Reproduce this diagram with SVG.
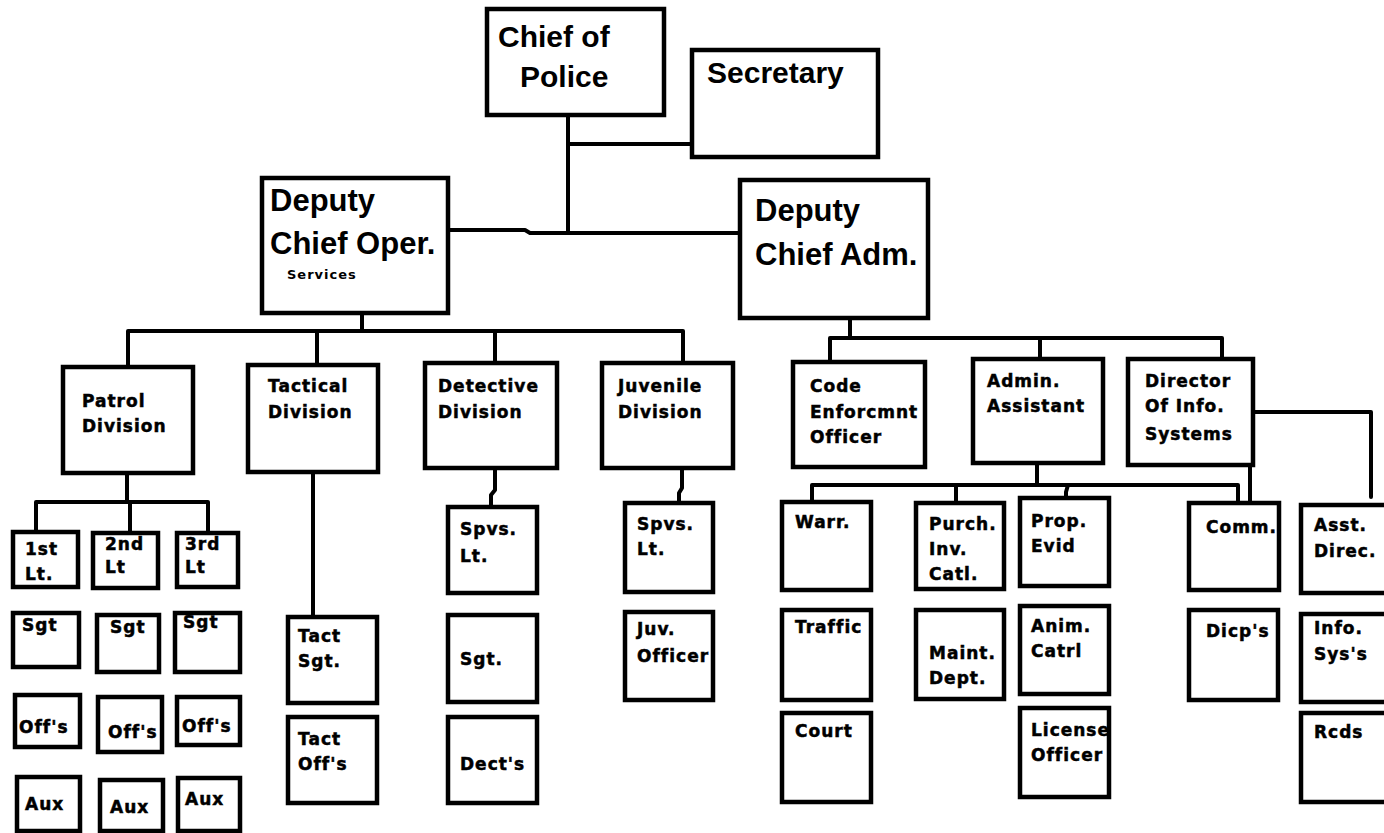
<svg xmlns="http://www.w3.org/2000/svg" width="1384" height="833" viewBox="0 0 1384 833">
<style>
.box{fill:#fff;stroke:#000;stroke-width:4.5}
.ln{fill:none;stroke:#000;stroke-width:4;stroke-linecap:round;stroke-linejoin:round}
.big{font-family:"Liberation Sans",Arial,sans-serif;font-weight:bold;font-size:30px;fill:#000}
.dep{font-size:31px}
.sm{font-family:"DejaVu Sans",Verdana,sans-serif;font-weight:bold;font-size:17px;letter-spacing:1px;fill:#000;stroke:#000;stroke-width:0.5}
.xs{font-family:"DejaVu Sans",Verdana,sans-serif;font-weight:bold;font-size:13px;letter-spacing:1px;fill:#000}
</style>
<rect width="1384" height="833" fill="#fff"/>
<g id="connectors">
<path class="ln" d="M568,115 V233"/>
<path class="ln" d="M568,144 H692"/>
<path class="ln" d="M448,230 H525 L530,233 H740"/>
<path class="ln" d="M362,313 V331 M128,331 H683 M128,331 V367 M317,331 V365 M495,331 V363 M683,331 V363"/>
<path class="ln" d="M127,473 V502 M36,502 H208 M36,502 V532 M130,502 V533 M208,502 V533"/>
<path class="ln" d="M313,472 V617"/>
<path class="ln" d="M495,468 V490 L491,495 V507"/>
<path class="ln" d="M682,468 V488 L679,493 V503"/>
<path class="ln" d="M850,318 V338 M830,338 H1222 M830,338 V362 M1040,338 V359 M1222,338 V359"/>
<path class="ln" d="M1037,463 V485 M812,485 H1238 V503 M812,485 V502 M956,485 V503 M1068,485 L1066,492 V498"/>
<path class="ln" d="M1250,465 V503"/>
<path class="ln" d="M1253,412 H1371 V497"/>
</g>
<g id="chief"><rect class="box" x="487" y="9" width="177" height="106"/><text class="big" x="498" y="47">Chief of</text><text class="big" x="520" y="87">Police</text></g>
<g id="secretary"><rect class="box" x="692" y="50" width="186" height="107"/><text class="big" x="707" y="83">Secretary</text></g>
<g id="dep-oper"><rect class="box" x="262" y="178" width="186" height="135"/><text class="big dep" x="270" y="211">Deputy</text><text class="big dep" x="270" y="254">Chief Oper.</text><text class="xs" x="287" y="279">Services</text></g>
<g id="dep-adm"><rect class="box" x="740" y="180" width="188" height="138"/><text class="big dep" x="755" y="221">Deputy</text><text class="big dep" x="755" y="265">Chief Adm.</text></g>
<g id="patrol"><rect class="box" x="63" y="367" width="130" height="106"/><text class="sm" x="82" y="407">Patrol</text><text class="sm" x="82" y="432">Division</text></g>
<g id="tactical"><rect class="box" x="248" y="365" width="130" height="107"/><text class="sm" x="268" y="392">Tactical</text><text class="sm" x="268" y="418">Division</text></g>
<g id="detective"><rect class="box" x="425" y="363" width="132" height="105"/><text class="sm" x="438" y="392">Detective</text><text class="sm" x="438" y="418">Division</text></g>
<g id="juvenile"><rect class="box" x="602" y="363" width="131" height="105"/><text class="sm" x="618" y="392">Juvenile</text><text class="sm" x="618" y="418">Division</text></g>
<g id="code"><rect class="box" x="793" y="362" width="132" height="105"/><text class="sm" x="810" y="392">Code</text><text class="sm" x="810" y="418">Enforcmnt</text><text class="sm" x="810" y="443">Officer</text></g>
<g id="admin"><rect class="box" x="973" y="359" width="130" height="104"/><text class="sm" x="987" y="387">Admin.</text><text class="sm" x="987" y="412">Assistant</text></g>
<g id="director"><rect class="box" x="1128" y="359" width="125" height="106"/><text class="sm" x="1145" y="387">Director</text><text class="sm" x="1145" y="412">Of Info.</text><text class="sm" x="1145" y="440">Systems</text></g>
<g id="lt1"><rect class="box" x="13" y="532" width="65" height="55"/><text class="sm" x="25" y="555">1st</text><text class="sm" x="25" y="580">Lt.</text></g>
<g id="lt2"><rect class="box" x="93" y="533" width="65" height="55"/><text class="sm" x="105" y="550">2nd</text><text class="sm" x="105" y="573">Lt</text></g>
<g id="lt3"><rect class="box" x="177" y="533" width="61" height="54"/><text class="sm" x="185" y="550">3rd</text><text class="sm" x="185" y="573">Lt</text></g>
<g id="sgt1"><rect class="box" x="13" y="613" width="66" height="54"/><text class="sm" x="22" y="631">Sgt</text></g>
<g id="sgt2"><rect class="box" x="97" y="615" width="62" height="57"/><text class="sm" x="110" y="633">Sgt</text></g>
<g id="sgt3"><rect class="box" x="175" y="613" width="65" height="59"/><text class="sm" x="183" y="628">Sgt</text></g>
<g id="off1"><rect class="box" x="15" y="695" width="65" height="52"/><text class="sm" x="19" y="733">Off's</text></g>
<g id="off2"><rect class="box" x="98" y="697" width="64" height="55"/><text class="sm" x="108" y="738">Off's</text></g>
<g id="off3"><rect class="box" x="177" y="697" width="63" height="48"/><text class="sm" x="182" y="732">Off's</text></g>
<g id="aux1"><rect class="box" x="17" y="777" width="63" height="54"/><text class="sm" x="25" y="810">Aux</text></g>
<g id="aux2"><rect class="box" x="100" y="780" width="63" height="51"/><text class="sm" x="110" y="813">Aux</text></g>
<g id="aux3"><rect class="box" x="178" y="778" width="62" height="53"/><text class="sm" x="185" y="805">Aux</text></g>
<g id="tact-sgt"><rect class="box" x="288" y="617" width="89" height="86"/><text class="sm" x="298" y="642">Tact</text><text class="sm" x="298" y="667">Sgt.</text></g>
<g id="tact-off"><rect class="box" x="288" y="717" width="89" height="86"/><text class="sm" x="298" y="745">Tact</text><text class="sm" x="298" y="770">Off's</text></g>
<g id="det-lt"><rect class="box" x="448" y="507" width="89" height="86"/><text class="sm" x="460" y="535">Spvs.</text><text class="sm" x="460" y="562">Lt.</text></g>
<g id="det-sgt"><rect class="box" x="448" y="615" width="89" height="87"/><text class="sm" x="460" y="665">Sgt.</text></g>
<g id="dects"><rect class="box" x="448" y="717" width="89" height="86"/><text class="sm" x="460" y="770">Dect's</text></g>
<g id="juv-lt"><rect class="box" x="625" y="503" width="88" height="89"/><text class="sm" x="637" y="530">Spvs.</text><text class="sm" x="637" y="555">Lt.</text></g>
<g id="juv-off"><rect class="box" x="625" y="612" width="88" height="88"/><text class="sm" x="637" y="635">Juv.</text><text class="sm" x="637" y="662">Officer</text></g>
<g id="warr"><rect class="box" x="782" y="502" width="89" height="88"/><text class="sm" x="795" y="528">Warr.</text></g>
<g id="traffic"><rect class="box" x="782" y="610" width="89" height="90"/><text class="sm" x="795" y="633">Traffic</text></g>
<g id="court"><rect class="box" x="782" y="713" width="89" height="89"/><text class="sm" x="795" y="737">Court</text></g>
<g id="purch"><rect class="box" x="916" y="503" width="88" height="86"/><text class="sm" x="929" y="530">Purch.</text><text class="sm" x="929" y="555">Inv.</text><text class="sm" x="929" y="580">Catl.</text></g>
<g id="maint"><rect class="box" x="916" y="610" width="88" height="89"/><text class="sm" x="929" y="659">Maint.</text><text class="sm" x="929" y="684">Dept.</text></g>
<g id="prop"><rect class="box" x="1020" y="498" width="89" height="88"/><text class="sm" x="1031" y="527">Prop.</text><text class="sm" x="1031" y="552">Evid</text></g>
<g id="anim"><rect class="box" x="1020" y="606" width="89" height="88"/><text class="sm" x="1031" y="632">Anim.</text><text class="sm" x="1031" y="657">Catrl</text></g>
<g id="license"><rect class="box" x="1020" y="708" width="89" height="89"/><text class="sm" x="1031" y="736">License</text><text class="sm" x="1031" y="761">Officer</text></g>
<g id="comm"><rect class="box" x="1189" y="503" width="90" height="87"/><text class="sm" x="1206" y="533">Comm.</text></g>
<g id="dicps"><rect class="box" x="1189" y="610" width="89" height="90"/><text class="sm" x="1206" y="637">Dicp's</text></g>
<g id="asst"><rect class="box" x="1301" y="505" width="100" height="88"/><text class="sm" x="1314" y="531">Asst.</text><text class="sm" x="1314" y="557">Direc.</text></g>
<g id="info"><rect class="box" x="1301" y="614" width="100" height="88"/><text class="sm" x="1314" y="634">Info.</text><text class="sm" x="1314" y="660">Sys's</text></g>
<g id="rcds"><rect class="box" x="1301" y="713" width="100" height="89"/><text class="sm" x="1314" y="738">Rcds</text></g>
</svg>
